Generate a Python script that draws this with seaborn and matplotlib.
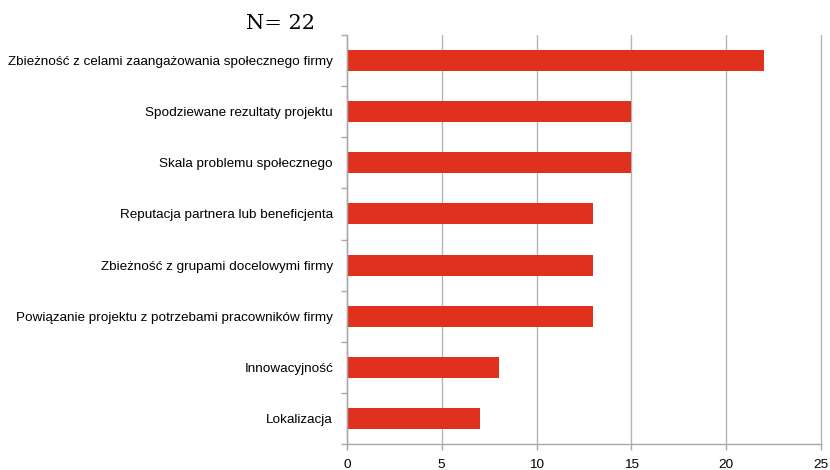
import matplotlib
matplotlib.use("Agg")
import matplotlib.pyplot as plt
import seaborn as sns
import pandas as pd
import numpy as np

categories = [
    "Zbieżność z celami zaangażowania społecznego firmy",
    "Spodziewane rezultaty projektu",
    "Skala problemu społecznego",
    "Reputacja partnera lub beneficjenta",
    "Zbieżność z grupami docelowymi firmy",
    "Powiązanie projektu z potrzebami pracowników firmy",
    "Innowacyjność",
    "Lokalizacja",
]
values = [22, 15, 15, 13, 13, 13, 8, 7]
x_ticks = [0, 5, 10, 15, 20, 25]
title_text = "N= 22"

df = pd.DataFrame({"category": categories, "value": values})

sns.set_theme(style="white")
plt.rcParams["font.family"] = ["Liberation Sans", "DejaVu Sans"]

fig = plt.figure(figsize=(8.3, 4.7), dpi=100)
ax = fig.add_axes([0.418, 0.0553, 0.571, 0.8702])

sns.barplot(data=df, x="value", y="category", orient="h", color="#E0311F",
            saturation=1, width=0.41, ax=ax, edgecolor="none")

ax.set_xlim(0, 25)
ax.set_ylim(len(categories) - 0.5, -0.5)
ax.set_xticks(x_ticks)
ax.set_xticklabels([str(t) for t in x_ticks], fontsize=9.7, color="black")
ax.set_xlabel("")
ax.set_ylabel("")

gray = "#A8A8A8"
ax.xaxis.grid(True, color="#B4B4B4", linewidth=1)
ax.yaxis.grid(False)
ax.set_axisbelow(True)
for gl in ax.get_xgridlines():
    gl.set_clip_on(False)

for s in ["top", "right"]:
    ax.spines[s].set_visible(False)
for s in ["left", "bottom"]:
    ax.spines[s].set_visible(True)
    ax.spines[s].set_color(gray)
    ax.spines[s].set_linewidth(1)

ax.tick_params(axis="x", which="major", length=4, width=1, color=gray,
               pad=7, direction="out", bottom=True)
ax.tick_params(axis="y", which="major", length=0, pad=10, labelsize=9.7,
               labelcolor="black")
ax.set_yticks(np.arange(-0.5, len(categories), 1.0), minor=True)
ax.tick_params(axis="y", which="minor", length=4, width=1, color=gray,
               direction="out", left=True)

fig.text(0.3385, 0.951, title_text, fontsize=15, family="DejaVu Serif",
         ha="center", va="center", color="black")

fig.savefig("out.png", dpi=100)
